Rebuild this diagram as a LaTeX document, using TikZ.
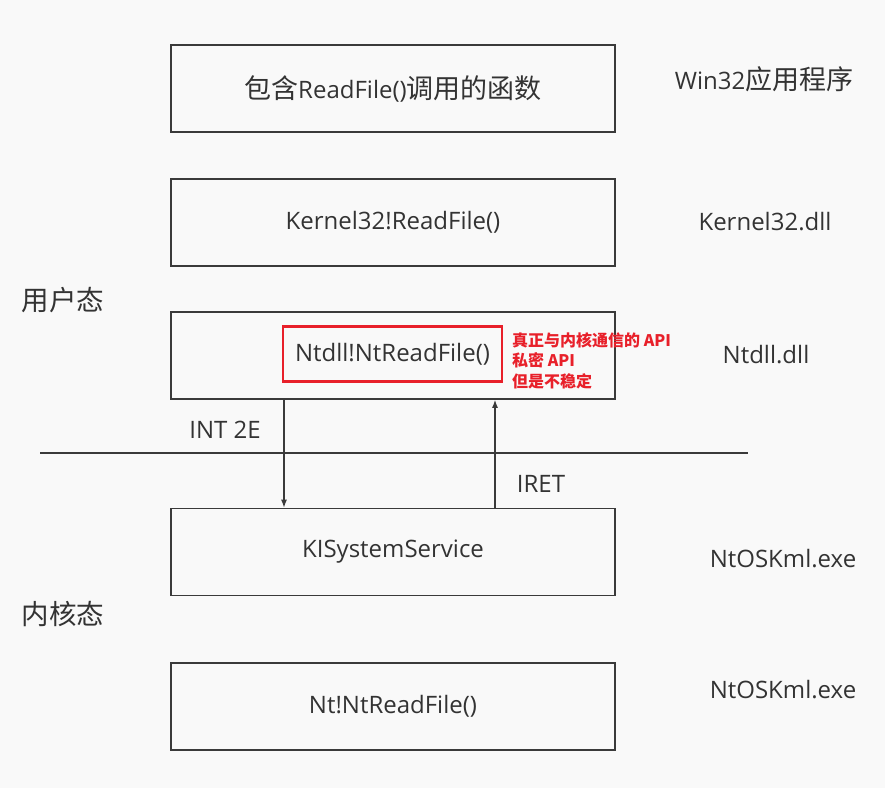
\documentclass[tikz,border=0pt]{standalone}
\usepackage{fontspec}
\setmainfont{Open Sans}
\newfontfamily\cjk{Noto Sans CJK SC}
\newcommand{\zh}[1]{{\cjk\fontsize{27}{30}\selectfont #1}}
\usetikzlibrary{arrows.meta}
\definecolor{bg}{HTML}{F9F9F9}
\definecolor{ln}{HTML}{3A3A3A}
\definecolor{txt}{HTML}{333333}
\definecolor{redc}{HTML}{E8202A}
\tikzset{
  layer/.style={draw=ln, line width=1.6pt, minimum width=444pt, minimum height=87pt, inner sep=0pt, text=txt, font=\fontsize{24}{28}\selectfont},
  side/.style={text=txt, inner sep=0pt, font=\fontsize{24}{28}\selectfont},
  modelbl/.style={text=txt, inner sep=0pt, font=\cjk\fontsize{27.5}{32}\selectfont},
  flow/.style={draw=ln, line width=1.3pt, -{Latex[length=8pt,width=6pt]}},
  hilite/.style={draw=redc, line width=2.4pt, minimum width=219pt, minimum height=55pt, inner sep=0pt, text=txt, font=\fontsize{24}{28}\selectfont},
  note/.style={text=redc, inner sep=0pt, align=left, font=\cjk\bfseries\fontsize{16}{20.5}\selectfont}
}
\begin{document}
\begin{tikzpicture}[x=1pt,y=-1pt]
\path[fill=bg] (0,0) rectangle (885,788);
\useasboundingbox (0,0) rectangle (885,788);

\node[layer] (b1) at (393,88.5) {\zh{包含}ReadFile()\zh{调用的函数}};
\node[layer] (b2) at (393,222.5) {Kernel32!ReadFile()};
\node[layer] (b3) at (393,355.5) {};
\node[layer] (b4) at (393,552) {KISystemService};
\node[layer] (b5) at (393,706.5) {Nt!NtReadFile()};

\node[hilite] (hl) at (392.5,354) {Ntdll!NtReadFile()};
\node[note, anchor=north west] (nt) at (512,332) {真正与内核通信的 API\\私密 API\\但是不稳定};

\node[side] (l1) at (764,79) {Win32\zh{应用程序}};
\node[side] (l2) at (765,222) {Kernel32.dll};
\node[side] (l3) at (766,355) {Ntdll.dll};
\node[side] (l4) at (783,559) {NtOSKml.exe};
\node[side] (l5) at (783,690) {NtOSKml.exe};

\node[modelbl] (u) at (63,300) {用户态};
\node[modelbl] (k) at (63,614) {内核态};

\coordinate (sl) at (40,453);
\coordinate (sr) at (748,453);
\draw[ln, line width=1.4pt] (sl) -- (sr);

\coordinate (xd) at (284,0);
\coordinate (xu) at (495,0);
\draw[flow] (b3.south -| xd) -- (b4.north -| xd);
\draw[flow] (b4.north -| xu) -- (b3.south -| xu);

\node[side] (i1) at (225,430) {INT 2E};
\node[side] (i2) at (541,484) {IRET};
\end{tikzpicture}
\end{document}
